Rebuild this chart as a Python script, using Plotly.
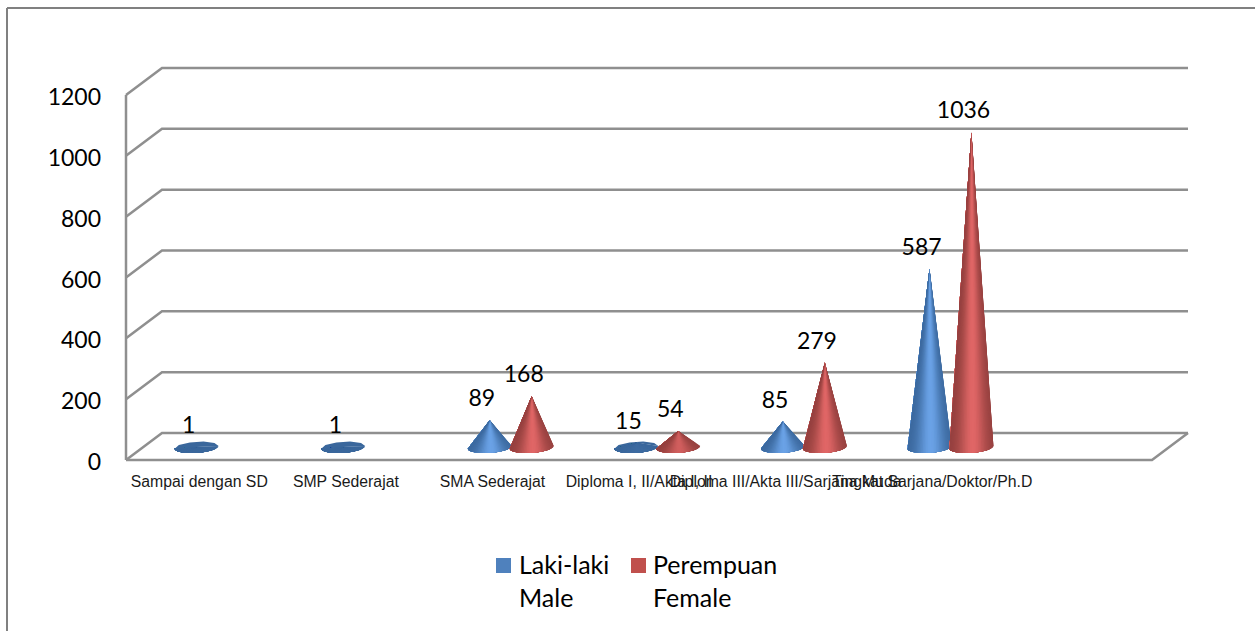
import numpy as np
import plotly.graph_objects as go

# Education levels and headcounts by gender
categories = [
    "Sampai dengan SD",
    "SMP Sederajat",
    "SMA Sederajat",
    "Diploma I, II/Akta I, II",
    "Diploma III/Akta III/Sarjana Muda",
    "Tingkat Sarjana/Doktor/Ph.D",
]
male_values = [1, 1, 89, 15, 85, 587]
female_values = [None, None, 168, 54, 279, 1036]
y_ticks = [0, 200, 400, 600, 800, 1000, 1200]
male_name = ["Laki-laki", "Male"]
female_name = ["Perempuan", "Female"]

W, H = 1255, 631
PAD = 4                          # room around the box so its outer lines are drawn whole
PLOT_L, PLOT_R, PLOT_T, PLOT_B = 126 - PAD, 1188 + PAD, 68 - PAD, 460 + PAD
CAT_PX = 1026 / 7                # an empty seventh slot sits to the right
UNIT_PX = 365 / 1200             # pixels per value unit
DEPTH_X = 36 / CAT_PX            # oblique depth of the floor, in category units
DEPTH_Y = 27 / UNIT_PX           # same, in value units
X_MAX = 6.5 + DEPTH_X
Y_RANGE = [-PAD / UNIT_PX, (460 - 68 + PAD) / UNIT_PX]
X_RANGE = [-0.5 - PAD / CAT_PX, X_MAX + PAD / CAT_PX]

FONT = "Lato, Carlito, Calibri, sans-serif"
GRID = "#8f8f8f"
BLUE = ("#3a679c", "#6aa2e6", "#4f81bd")
RED = ("#923f3d", "#e06666", "#c0504d")


def mix(c1, c2, t):
    a = np.array([int(c1[i:i + 2], 16) for i in (1, 3, 5)])
    b = np.array([int(c2[i:i + 2], 16) for i in (1, 3, 5)])
    r = (a + (b - a) * t).round().astype(int)
    return "#%02x%02x%02x" % tuple(r)


def line(fig, xs, ys):
    fig.add_trace(go.Scatter(x=xs, y=ys, mode="lines", showlegend=False, hoverinfo="skip",
                             line=dict(color=GRID, width=2.5)))


def cone(fig, cx, value, palette):
    """A shaded cone on the floor: overlapping triangles fanned from the apex to the base ellipse."""
    dark, light, _ = palette
    half_w = 22 / CAT_PX
    half_h = 5.6 / UNIT_PX
    tilt = 22 * 0.06 / UNIT_PX
    base_y = 41.7
    strength = min(1.0, (value / 60) ** 2)
    apex_y = base_y + value

    def rim(theta):
        return (cx + half_w * np.cos(theta),
                base_y + half_h * np.sin(theta) + tilt * np.cos(theta))

    def wedge(t0, t1, colour):
        theta = np.linspace(t0, t1, 6)
        px, py = rim(theta)
        fig.add_trace(go.Scatter(
            x=[cx, *px, cx], y=[apex_y, *py, apex_y],
            mode="lines", fill="toself", fillcolor=colour, showlegend=False, hoverinfo="skip",
            line=dict(color=colour, width=0)))

    # Far side of the surface first, flat and dark
    wedge(0, np.pi, dark)
    # Near side, right to left, each wedge painted over the ones to its right
    n = 40
    edges = np.linspace(np.pi, 2 * np.pi, n + 1)
    for i in range(n - 1, -1, -1):
        mid = (edges[i] + edges[i + 1]) / 2
        s = np.exp(-((np.cos(mid) - 0.06) / 0.6) ** 2) * strength
        wedge(np.pi, edges[i + 1], mix(dark, light, s))


fig = go.Figure()

# Back wall gridlines, their diagonals along the side wall, and the floor
for v in y_ticks:
    line(fig, [-0.5, -0.5 + DEPTH_X, X_MAX], [v, v + DEPTH_Y, v + DEPTH_Y])
line(fig, [-0.5, -0.5], [0, 1200])
line(fig, [-0.5, 6.5, X_MAX], [0, 0, DEPTH_Y])

MALE_DX, FEMALE_DX = -0.018, 0.268
LABEL_LIFT = 106
label_x, label_y, label_text = [], [], []
for i, (m, f) in enumerate(zip(male_values, female_values)):
    cone(fig, i + MALE_DX, m, BLUE)
    label_x.append(i - 0.072)
    label_y.append(m + LABEL_LIFT)
    label_text.append(str(m))
    if f is not None:
        cone(fig, i + FEMALE_DX, f, RED)
        label_x.append(i + 0.214)
        label_y.append(f + LABEL_LIFT)
        label_text.append(str(f))

fig.add_trace(go.Scatter(x=label_x, y=label_y, text=label_text, mode="text", showlegend=False,
                         hoverinfo="skip", textposition="middle center", cliponaxis=False,
                         textfont=dict(family=FONT, size=23, color="#000000")))


def px_x(p):
    return (p - PLOT_L) / (PLOT_R - PLOT_L)


def px_y(p):
    return (PLOT_B - p) / (PLOT_B - PLOT_T)


frame = dict(type="line", xref="paper", yref="paper", line=dict(color="#808080", width=2))
shapes = [
    dict(frame, x0=px_x(7), x1=px_x(7), y0=px_y(8), y1=px_y(H)),
    dict(frame, x0=px_x(7), x1=px_x(W), y0=px_y(8), y1=px_y(8)),
]

# Legend: a colour key followed by two lines of text per series
annotations = []
for key_left, text_left, lines, pal in ((496, 518, male_name, BLUE), (631, 652, female_name, RED)):
    shapes.append(dict(type="rect", xref="paper", yref="paper", layer="above",
                       x0=px_x(key_left), x1=px_x(key_left + 15), y0=px_y(573), y1=px_y(558),
                       fillcolor=pal[2], line=dict(width=0)))
    for text, centre in zip(lines, (564, 597)):
        annotations.append(dict(text=text, xref="paper", yref="paper", x=px_x(text_left - 1.5),
                                y=px_y(centre), xanchor="left", yanchor="middle", showarrow=False,
                                font=dict(family=FONT, size=25, color="#000000")))

fig.update_layout(
    width=W, height=H, autosize=False, showlegend=False,
    margin=dict(l=PLOT_L, r=W - PLOT_R, t=PLOT_T, b=H - PLOT_B, pad=0, autoexpand=False),
    paper_bgcolor="white", plot_bgcolor="white", shapes=shapes, annotations=annotations,
    xaxis=dict(range=X_RANGE, tickmode="array", tickvals=list(range(len(categories))),
               ticktext=categories, tickangle=0, showgrid=False, zeroline=False, showline=False,
               ticks="", ticklabelstandoff=6,
               tickfont=dict(family="Liberation Sans, Arial, sans-serif", size=15.8, color="#1a1a1a")),
    yaxis=dict(range=Y_RANGE, tickmode="array", tickvals=y_ticks, showgrid=False, zeroline=False,
               showline=False, ticks="", ticklabelstandoff=20, ticklabelshift=2,
               tickfont=dict(family=FONT, size=23, color="#000000")),
)

fig.write_html("out.html")
